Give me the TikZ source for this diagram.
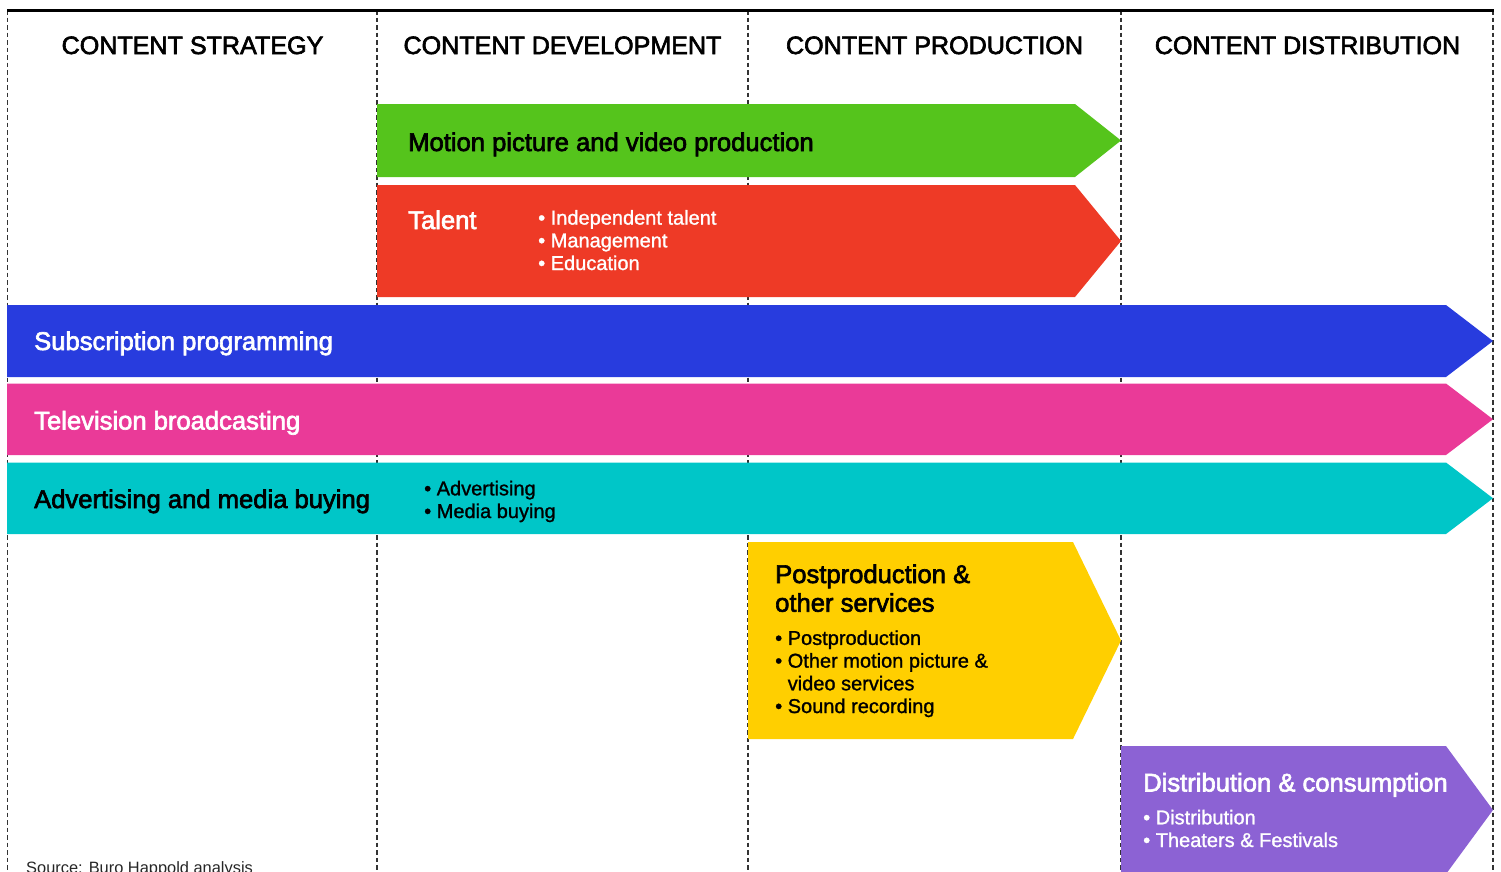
\documentclass[tikz,border=0pt]{standalone}
\usepackage{fontspec}
\setmainfont{Liberation Sans}
\newfontfamily\medfont[FakeBold=2.5]{Liberation Sans}
\newfontfamily\lightbold[FakeBold=1.2]{Liberation Sans}
\definecolor{cgreen}{HTML}{55C41C}
\definecolor{cred}{HTML}{EE3A26}
\definecolor{cblue}{HTML}{283CDE}
\definecolor{cpink}{HTML}{EA3A98}
\definecolor{ccyan}{HTML}{00C6C8}
\definecolor{cyellow}{HTML}{FFCF00}
\definecolor{cpurple}{HTML}{8C62D4}
\newcommand{\bandarrow}[6]{%
  \fill[#1] (#2,#3) -- (#6,#3) -- (#4,{(#3+#5)/2}) -- (#6,#5) -- (#2,#5) -- cycle;}
\begin{document}
\begin{tikzpicture}[x=1pt,y=-1pt,
  header/.style={font=\medfont\fontsize{25.1}{28}\selectfont, anchor=base, inner sep=0pt},
  title/.style={font=\medfont\fontsize{25.6}{28.7}\selectfont, anchor=base west, inner sep=0pt, align=left},
  bullets/.style={font=\lightbold\fontsize{20}{22.7}\selectfont, anchor=base west, inner sep=0pt, align=left},
  divider/.style={line width=1.8pt, dash pattern=on 4.5pt off 3pt, draw=black!80},
]
\useasboundingbox (0,0) rectangle (1501,871);
% dividers
\draw[divider] (7.5,10) -- (7.5,875);
\draw[divider] (377,10) -- (377,875);
\draw[divider] (748,10) -- (748,875);
\draw[divider] (1121,10) -- (1121,875);
\draw[divider] (1493,10) -- (1493,875);
\draw[line width=2.6pt] (7,10.5) -- (1494,10.5);
% headers
\node[header] (h1) at (192.5,54) {CONTENT STRATEGY};
\node[header] (h2) at (562.5,54) {CONTENT DEVELOPMENT};
\node[header] (h3) at (934.5,54) {CONTENT PRODUCTION};
\node[header] (h4) at (1307.5,54) {CONTENT DISTRIBUTION};
% arrows
\bandarrow{cgreen}{377}{104}{1121}{177}{1075}
\bandarrow{cred}{377}{185}{1121}{297}{1075}
\bandarrow{cblue}{7}{305}{1493}{377}{1446}
\bandarrow{cpink}{7}{383.5}{1493}{455}{1446}
\bandarrow{ccyan}{7}{462.5}{1493}{534}{1446}
\bandarrow{cyellow}{748}{542}{1121}{739}{1073}
\bandarrow{cpurple}{1121}{746}{1493}{874}{1446}
% texts
\node[title] (motion) at (408,151) {Motion picture and video production};
\node[title, text=white] (talent) at (408,229) {Talent};
\node[bullets, text=white] (talentlist) at (538,270) {• Independent talent\\• Management\\• Education};
\node[title, text=white] (subs) at (34,350) {Subscription programming};
\node[title, text=white] (tv) at (34,429.5) {Television broadcasting};
\node[title] (adv) at (34,508) {Advertising and media buying};
\node[bullets] (advlist) at (424,518) {• Advertising\\• Media buying};
\node[title] (post) at (775,611.7) {Postproduction \&\\other services};
\node[bullets] (postlist) at (775,713) {• Postproduction\\• Other motion picture \&\\\phantom{• }video services\\• Sound recording};
\node[title, text=white] (dist) at (1143,791.5) {Distribution \& consumption};
\node[bullets, text=white] (distlist) at (1143,847) {• Distribution\\• Theaters \& Festivals};
\node[anchor=base west, inner sep=0pt, font=\fontsize{16.4}{18}\selectfont, text=black!85] (source) at (26,873) {Source: Buro Happold analysis};
\end{tikzpicture}
\end{document}
